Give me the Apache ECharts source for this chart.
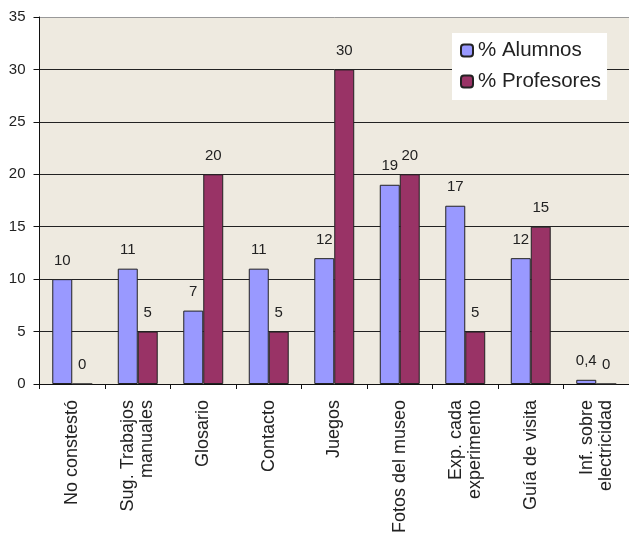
<!DOCTYPE html>
<html>
<head>
<meta charset="utf-8">
<script src="https://cdn.jsdelivr.net/npm/echarts@6/dist/echarts.min.js"></script>
<style>
html,body{margin:0;padding:0;background:#fff;}
#c{width:629px;height:539px;}
</style>
</head>
<body>
<div id="c"></div>
<script>
const categories = ['No constestó', 'Sug. Trabajos\nmanuales', 'Glosario', 'Contacto', 'Juegos', 'Fotos del museo', 'Exp. cada\nexperimento', 'Guía de visita', 'Inf. sobre\nelectricidad'];
const alumnos = [10, 11, 7, 11, 12, 19, 17, 12, 0.4];
const profesores = [0, 5, 20, 5, 30, 20, 5, 15, 0];
const yTicks = [0, 5, 10, 15, 20, 25, 30, 35];

const FONT = '"Liberation Sans", Arial, sans-serif';
const chart = echarts.init(document.getElementById('c'), null, {renderer: 'canvas'});
const labelCfg = {
  show: true, position: 'top', distance: 11,
  fontFamily: FONT, fontSize: 15, color: '#222',
  formatter: p => String(p.value).replace('.', ',')
};
chart.setOption({
  animation: false,
  textStyle: {fontFamily: FONT},
  grid: {left: 39.5, right: 0, top: 17, bottom: 155, show: true, backgroundColor: '#EEEAE0', borderWidth: 0},
  legend: {
    orient: 'vertical', left: 452, top: 33,
    backgroundColor: '#fff', padding: [7, 6, 8, 8],
    itemWidth: 12, itemHeight: 12, itemGap: 10,
    textStyle: {fontFamily: FONT, fontSize: 20.5, color: '#222', lineHeight: 20},
    data: ['% Alumnos', '% Profesores']
  },
  xAxis: {
    type: 'category', data: categories,
    axisLine: {lineStyle: {color: '#111', width: 1}},
    axisTick: {show: true, interval: 0, length: 5, lineStyle: {color: '#111'}},
    axisLabel: {rotate: 90, interval: 0, margin: 16, fontFamily: FONT, fontSize: 18, lineHeight: 19, color: '#222'}
  },
  yAxis: {
    type: 'value', min: yTicks[0], max: yTicks[yTicks.length - 1], interval: 5,
    axisLine: {show: true, lineStyle: {color: '#111', width: 1}},
    axisTick: {show: true, length: 6, lineStyle: {color: '#111'}},
    axisLabel: {margin: 14, fontFamily: FONT, fontSize: 15, color: '#222'},
    splitLine: {show: true, lineStyle: {color: ['#222', '#222', '#222', '#222', '#222', '#222', '#222', '#999'], width: 1}}
  },
  series: [
    {
      name: '% Alumnos', type: 'bar', data: alumnos,
      barGap: '0%', barCategoryGap: '39%',
      itemStyle: {color: '#9999FF', borderColor: '#222', borderWidth: 1},
      label: labelCfg
    },
    {
      name: '% Profesores', type: 'bar', data: profesores,
      barGap: '0%', barCategoryGap: '39%',
      itemStyle: {color: '#993366', borderColor: '#222', borderWidth: 1},
      label: labelCfg
    }
  ]
});
</script>
</body>
</html>
